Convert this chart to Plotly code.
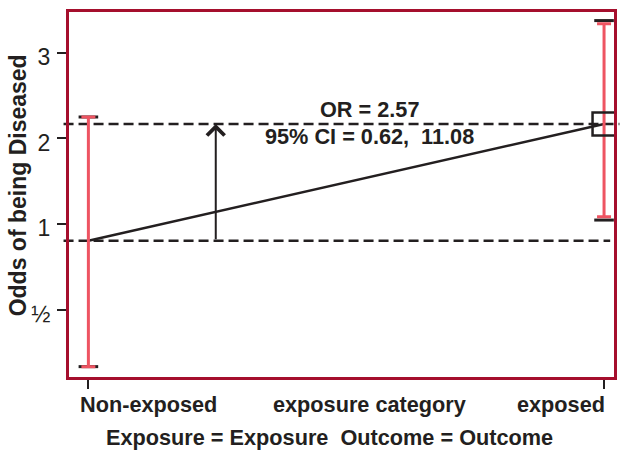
import numpy as np
import plotly.graph_objects as go

# Exposure categories and odds of disease in each
categories = ["Non-exposed", "exposed"]
odds = [0.875, 2.25]

# 95% confidence limits of the odds (red bars) and the outer limits (black caps)
ci_lower = [0.316, 1.063]
ci_upper = [2.38, 5.06]
cap_lower = [0.316, 1.034]
cap_upper = [2.38, 5.19]

# 95% CI of the odds ratio
or_ci = [0.62, 11.08]

# Odds axis ticks
y_tick_values = [0.5, 1, 2, 4]
y_tick_labels = ["½", "1", "2", "3"]

INK = "#231f20"
RED = "#ee5462"
FRAME = "#a50f2d"
FONT = "Liberation Sans, Arial, sans-serif"

CAP_HALF = 0.019      # half-width of the black caps (x units)
ARROW_X = 0.247       # horizontal position of the odds-ratio arrow
LABEL_X = 0.545       # centre of the OR text and the axis caption

x_pos = np.arange(len(categories), dtype=float)
log_odds = np.log2(odds)
odds_ratio = odds[1] / odds[0]

fig = go.Figure()

# black caps
cap_x, cap_y = [], []
for xi, lo, hi in zip(x_pos, cap_lower, cap_upper):
    for v in (lo, hi):
        cap_x += [xi - CAP_HALF, xi + CAP_HALF, None]
        cap_y += [np.log2(v), np.log2(v), None]
fig.add_trace(go.Scatter(x=cap_x, y=cap_y, mode="lines",
                         line=dict(color=INK, width=3), hoverinfo="skip"))

# line joining the two odds
fig.add_trace(go.Scatter(x=x_pos, y=log_odds, mode="lines",
                         line=dict(color=INK, width=2.5), hoverinfo="skip"))

# red confidence bars
fig.add_trace(go.Scatter(
    x=x_pos, y=log_odds, mode="markers",
    marker=dict(size=1, color="rgba(0,0,0,0)"),
    error_y=dict(type="data", symmetric=False,
                 array=np.log2(ci_upper) - log_odds,
                 arrayminus=log_odds - np.log2(ci_lower),
                 color=RED, thickness=3, width=7),
    hoverinfo="skip"))

# open square on the exposed odds
fig.add_trace(go.Scatter(
    x=[x_pos[1]], y=[log_odds[1]], mode="markers", cliponaxis=False,
    marker=dict(symbol="square-open", size=23, color=INK, line=dict(width=2.5, color=INK)),
    hoverinfo="skip"))

# dashed reference lines at both odds
for v, x1 in zip(log_odds, [0.993, 1.01]):
    fig.add_shape(type="line", xref="paper", yref="y", x0=-0.01, x1=x1, y0=v, y1=v,
                  line=dict(color=INK, width=2.5, dash="10px,5px"), layer="below")

txt = dict(family=FONT, size=21.7, color=INK)
annotations = [
    # arrow from the non-exposed odds to the exposed odds
    dict(x=ARROW_X, y=log_odds[1], ax=ARROW_X, ay=log_odds[0], xref="x", yref="y",
         axref="x", ayref="y", showarrow=True, arrowhead=4, arrowsize=1.7,
         arrowwidth=2, arrowcolor=INK, text=""),
    dict(x=LABEL_X, y=0.734, xref="x", yref="paper", showarrow=False,
         xanchor="center", yanchor="middle",
         text=f"<b>OR = {odds_ratio:.2f}</b>", font=txt),
    dict(x=LABEL_X, y=0.658, xref="x", yref="paper", showarrow=False,
         xanchor="center", yanchor="middle",
         text=f"<b>95% CI = {or_ci[0]:.2f},\u00a0 {or_ci[1]:.2f}</b>", font=txt),
    # category labels
    dict(x=x_pos[0], y=-0.074, xref="x", yref="paper", showarrow=False, xanchor="left",
         yanchor="middle", xshift=-10, text=f"<b>{categories[0]}</b>", font=txt),
    dict(x=x_pos[1], y=-0.074, xref="x", yref="paper", showarrow=False, xanchor="right",
         yanchor="middle", xshift=3, text=f"<b>{categories[1]}</b>", font=txt),
    dict(x=LABEL_X, y=-0.074, xref="x", yref="paper", showarrow=False,
         xanchor="center", yanchor="middle",
         text="<b>exposure category</b>", font=txt),
    # axis titles
    dict(x=0.478, y=-0.167, xref="paper", yref="paper", showarrow=False,
         xanchor="center", yanchor="middle",
         text="<b>Exposure = Exposure\u00a0 Outcome = Outcome</b>", font=txt),
    dict(x=-0.093, y=0.526, xref="paper", yref="paper", showarrow=False, textangle=-90,
         xanchor="center", yanchor="middle",
         text="<b>Odds of being Diseased</b>", font=dict(family=FONT, size=23, color=INK)),
]

fig.update_layout(
    width=621, height=450,
    margin=dict(l=69, r=4, t=12, b=73),
    plot_bgcolor="white", paper_bgcolor="white",
    showlegend=False,
    annotations=annotations,
    xaxis=dict(range=[-0.0376, 1.0193], showgrid=False, zeroline=False,
               showline=True, mirror=True, linecolor=FRAME, linewidth=3,
               tickvals=list(x_pos), ticks="outside", ticklen=9, tickwidth=2,
               tickcolor=INK, showticklabels=False),
    yaxis=dict(range=[-1.783, 2.476], showgrid=False, zeroline=False,
               showline=True, mirror=True, linecolor=FRAME, linewidth=3,
               tickvals=list(np.log2(y_tick_values)), ticktext=y_tick_labels,
               ticks="outside", ticklen=9, tickwidth=2, tickcolor=INK,
               ticklabelshift=4, ticklabelstandoff=2,
               tickfont=dict(family=FONT, size=23, color=INK)),
)

fig.write_html("out.html")
